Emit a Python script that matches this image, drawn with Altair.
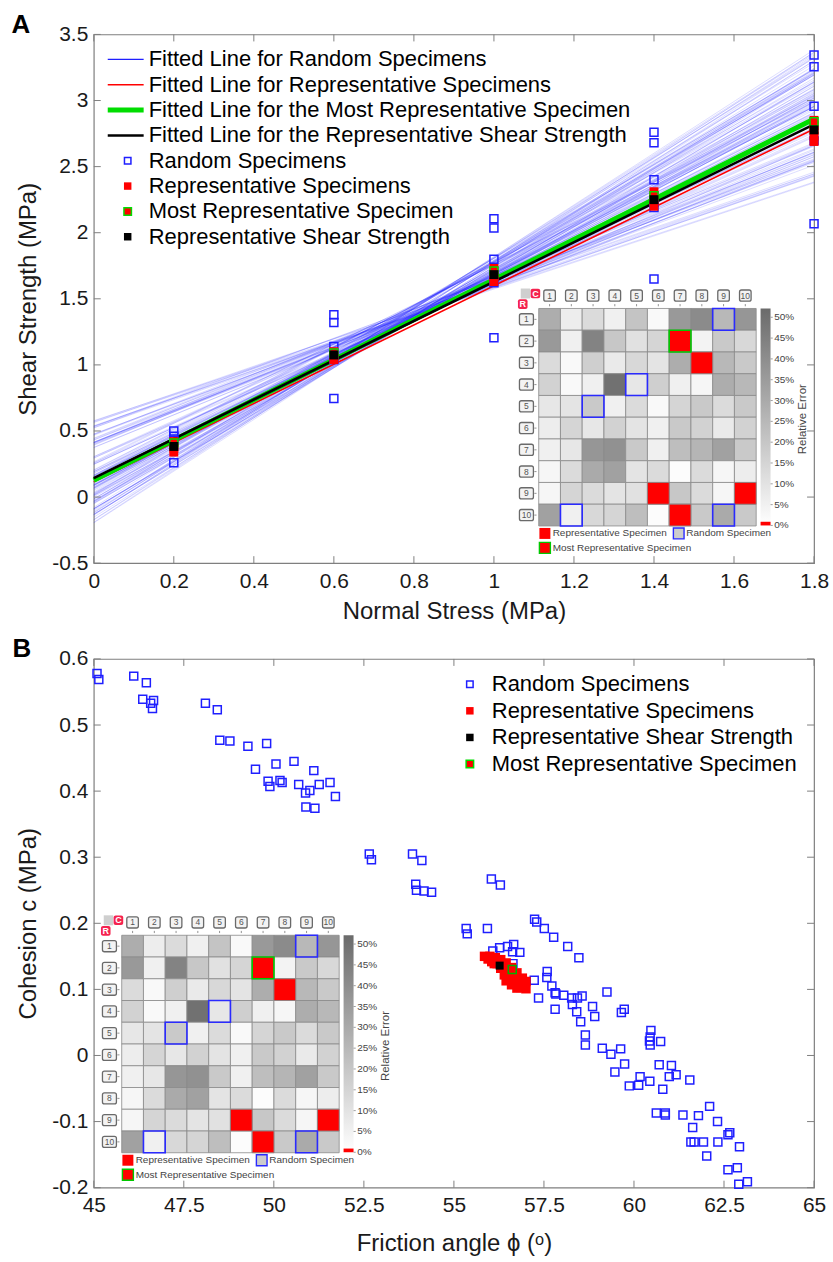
import altair as alt
import pandas as pd

FONT = "Liberation Sans"
INK = "#1a1a1a"
FRAME = "#7f7f7f"
BLUE = "#1f1fff"
RED = "#ff0000"
GREEN = "#00dd00"
W, H = 722, 530

# ---------------- Panel B data (friction angle, cohesion) ----------------
B_xticks = [45, 47.5, 50, 52.5, 55, 57.5, 60, 62.5, 65]
B_yticks = [-0.2, -0.1, 0, 0.1, 0.2, 0.3, 0.4, 0.5, 0.6]

B_rand_phi = [45.09, 45.14, 46.11, 46.46, 46.36, 46.58, 46.66, 46.63, 48.10, 48.43,
              48.50, 48.78, 49.28, 49.80, 49.49, 49.84, 49.89, 50.06, 50.17, 50.23,
              50.56, 50.69, 50.88, 51.00, 51.11, 50.89, 51.14, 51.26, 51.56, 51.71,
              52.65, 52.71, 53.85, 54.11, 53.94, 53.96, 54.17, 54.38,
              56.04, 56.29, 55.34, 55.37, 55.93, 56.08, 56.27, 56.49, 56.66, 56.63,
              56.83, 56.64, 57.24, 57.30, 57.51, 57.77, 58.16, 58.47,
              57.23, 57.59, 57.58, 57.72, 57.81, 57.83, 58.05, 58.27, 58.43, 58.56,
              58.29, 57.35, 57.81, 58.41, 58.52, 58.85, 58.91, 59.25,
              58.65, 58.65, 59.12, 59.36, 59.63, 59.65, 59.73, 59.47, 59.74, 59.87,
              60.13, 60.17, 60.44, 60.47, 60.43, 60.45, 60.45, 60.74, 60.70, 61.04,
              60.98, 61.17, 60.80, 61.55,
              60.62, 60.87, 60.87, 61.36, 61.79, 62.10, 62.32, 61.63, 61.58, 61.67,
              61.93, 62.33, 62.02, 62.61, 62.66, 62.93, 62.61, 62.87, 62.91, 63.15]
B_rand_c = [0.578, 0.569, 0.574, 0.564, 0.539, 0.533, 0.537, 0.525, 0.533, 0.523,
            0.477, 0.476, 0.468, 0.472, 0.433, 0.415, 0.407, 0.441, 0.416, 0.413,
            0.445, 0.410, 0.397, 0.401, 0.431, 0.376, 0.374, 0.410, 0.413, 0.392,
            0.305, 0.296, 0.305, 0.295, 0.259, 0.250, 0.249, 0.247,
            0.267, 0.258, 0.192, 0.184, 0.192, 0.158, 0.163, 0.165, 0.168, 0.157,
            0.156, 0.139, 0.206, 0.202, 0.192, 0.179, 0.165, 0.148,
            0.114, 0.127, 0.118, 0.105, 0.095, 0.093, 0.091, 0.087, 0.087, 0.090,
            0.077, 0.087, 0.070, 0.066, 0.051, 0.074, 0.059, 0.096,
            0.031, 0.016, 0.011, 0.002, 0.010, 0.065, 0.070, -0.025, -0.013, -0.046,
            -0.045, -0.032, -0.039, 0.038, 0.022, 0.016, 0.028, 0.021, -0.014, -0.015,
            -0.032, -0.029, -0.051, -0.037,
            -0.087, -0.087, -0.090, -0.090, -0.091, -0.077, -0.100, -0.109, -0.131, -0.131,
            -0.131, -0.131, -0.152, -0.120, -0.117, -0.138, -0.173, -0.170, -0.195, -0.191]

B_rep_phi = [55.85, 56.00, 56.15, 56.30, 56.45, 56.60, 56.75, 56.90, 57.00,
             55.95, 56.05, 56.20, 56.35, 56.50, 56.65, 56.80, 56.95,
             56.12, 56.30, 56.40, 56.55, 56.70, 56.85, 57.00,
             56.45, 56.60, 56.75]
B_rep_c = [0.150, 0.150, 0.148, 0.145, 0.140, 0.133, 0.125, 0.117, 0.112,
           0.146, 0.142, 0.139, 0.134, 0.127, 0.119, 0.112, 0.106,
           0.139, 0.132, 0.122, 0.115, 0.108, 0.103, 0.101,
           0.113, 0.107, 0.102]
B_most_phi, B_most_c = [56.62], [0.130]
B_shear_phi, B_shear_c = [56.27], [0.136]

B_legend_labels = ["Random Specimens", "Representative Specimens",
                   "Representative Shear Strength", "Most Representative Specimen"]

# ---------------- Panel A data (normal stress, shear strength) ----------------
A_xticks = [0, 0.2, 0.4, 0.6, 0.8, 1, 1.2, 1.4, 1.6, 1.8]
A_yticks = [-0.5, 0, 0.5, 1, 1.5, 2, 2.5, 3, 3.5]

A_rand_sigma = [0.2, 0.2, 0.2, 0.2, 0.6, 0.6, 0.6, 0.6, 0.6, 1.0, 1.0, 1.0, 1.0, 1.0,
                1.4, 1.4, 1.4, 1.4, 1.4, 1.4, 1.8, 1.8, 1.8, 1.8, 1.8]
A_rand_tau = [0.50, 0.46, 0.43, 0.26, 1.38, 1.32, 1.14, 1.04, 0.745, 2.106, 2.036, 1.80, 1.621, 1.206,
              2.76, 2.68, 2.40, 2.23, 2.19, 1.65, 3.344, 3.256, 2.957, 2.698, 2.068]
A_rep_sigma = [0.2, 0.2, 0.2, 0.2, 0.6, 0.6, 0.6, 1.0, 1.0, 1.0, 1.0,
               1.4, 1.4, 1.4, 1.4, 1.8, 1.8, 1.8, 1.8, 1.8]
A_rep_tau = [0.34, 0.37, 0.40, 0.42, 1.04, 1.07, 1.10, 1.63, 1.67, 1.71, 1.73,
             2.20, 2.24, 2.28, 2.31, 2.69, 2.73, 2.77, 2.81, 2.85]
A_most_sigma = [0.2, 0.6, 1.0, 1.4, 1.8]
A_most_tau = [0.41, 1.09, 1.71, 2.28, 2.84]
A_shear_sigma = [0.2, 0.6, 1.0, 1.4, 1.8]
A_shear_tau = [0.383, 1.075, 1.683, 2.25, 2.778]

# fitted lines: value at sigma = 0 and at sigma = 1.8  (rep, most rep, shear strength)
A_fit_start = [0.115, 0.128, 0.143]
A_fit_end = [2.785, 2.86, 2.82]

A_legend_labels = ["Fitted Line for Random Specimens",
                   "Fitted Line for Representative Specimens",
                   "Fitted Line for the Most Representative Specimen",
                   "Fitted Line for the Representative Shear Strength",
                   "Random Specimens", "Representative Specimens",
                   "Most Representative Specimen", "Representative Shear Strength"]

# ---------------- Inset heat map (relative error, %) ----------------
ERR = [
    [28, 6, 12, 5, 20, 2, 35, 40, 24, 36],
    [35, 5, 43, 19, 10, 14, 0, 4, 18, 13],
    [12, 2, 16, 7, 13, 9, 28, 0, 24, 18],
    [15, 2, 5, 50, 8, 16, 5, 3, 28, 24],
    [8, 9, 18, 5, 12, 2, 14, 18, 12, 18],
    [6, 14, 8, 15, 9, 5, 18, 15, 7, 15],
    [5, 8, 36, 38, 18, 5, 22, 25, 32, 18],
    [3, 12, 29, 32, 9, 12, 1, 12, 3, 6],
    [3, 14, 12, 9, 10, 0, 19, 12, 3, 0],
    [32, 5, 13, 14, 22, 1, 0, 18, 29, 18],
]
REP_CELLS = [(2, 7), (3, 8), (9, 6), (9, 10), (10, 7)]
MOST_CELLS = [(2, 7)]
RANDOM_CELLS = [(1, 9), (4, 5), (5, 3), (10, 2), (10, 9)]
HEADERS = [str(i) for i in range(1, 11)]
CB_TICKS = [0, 5, 10, 15, 20, 25, 30, 35, 40, 45, 50]
CB_MAX = 52.2
INSET_LEGEND = ["Representative Specimen", "Random Specimen", "Most Representative Specimen"]


def one():
    return pd.DataFrame({"k": [0]})


def ptxt(df, size, color="#333333", align="center", weight="normal", angle=None, font=FONT):
    kw = dict(align=align, baseline="middle", font=font, fontSize=size, color=color, fontWeight=weight)
    if angle is not None:
        kw["angle"] = angle
    return alt.Chart(df).mark_text(**kw).encode(
        x=alt.X("px:Q", scale=None), y=alt.Y("py:Q", scale=None), text="t:N")


def prect(df, **kw):
    return alt.Chart(df).mark_rect(**kw).encode(
        x=alt.X("px1:Q", scale=None), x2="px2:Q", y=alt.Y("py1:Q", scale=None), y2="py2:Q")


def inset(ox, oy):
    s = 21.8
    L = []

    def cells_df(pairs, with_err=False):
        rows = []
        for (r, c) in pairs:
            d = {"px1": ox + (c - 1) * s, "px2": ox + c * s, "py1": oy + (r - 1) * s, "py2": oy + r * s}
            if with_err:
                d["err"] = ERR[r - 1][c - 1]
            rows.append(d)
        return pd.DataFrame(rows)

    allcells = cells_df([(r, c) for r in range(1, 11) for c in range(1, 11)], True)
    L.append(alt.Chart(allcells).mark_rect(stroke="#8a8a8a", strokeWidth=0.8).encode(
        x=alt.X("px1:Q", scale=None), x2="px2:Q", y=alt.Y("py1:Q", scale=None), y2="py2:Q",
        fill=alt.Fill("err:Q", scale=alt.Scale(domain=[0, CB_MAX], range=["#ffffff", "#6b6b6b"]), legend=None)))
    L.append(prect(cells_df(REP_CELLS), fill=RED, stroke="#8a8a8a", strokeWidth=0.8))
    L.append(prect(cells_df(RANDOM_CELLS), fillOpacity=0, stroke="#2a2aff", strokeWidth=1.6))
    L.append(prect(cells_df(MOST_CELLS), fillOpacity=0, stroke="#00c800", strokeWidth=1.6))

    # column and row headers
    ch = pd.DataFrame({"t": HEADERS, "i": range(1, 11)})
    ch["px"] = ox + (ch["i"] - 0.5) * s
    ch["py"] = oy - 12.9
    ch["px1"], ch["px2"] = ch["px"] - 5.8, ch["px"] + 5.8
    ch["py1"], ch["py2"] = ch["py"] - 5.6, ch["py"] + 5.6
    L.append(prect(ch, cornerRadius=2, fill="#f3f3f3", stroke="#6a6a6a", strokeWidth=1.3))
    L.append(ptxt(ch, 8.5, "#555555"))
    rh = pd.DataFrame({"t": HEADERS, "i": range(1, 11)})
    rh["px"] = ox - 12.3
    rh["py"] = oy + (rh["i"] - 0.5) * s
    rh["px1"], rh["px2"] = rh["px"] - 7, rh["px"] + 7
    rh["py1"], rh["py2"] = rh["py"] - 5.6, rh["py"] + 5.6
    L.append(prect(rh, cornerRadius=2, fill="#f3f3f3", stroke="#6a6a6a", strokeWidth=1.3))
    L.append(ptxt(rh, 8.5, "#555555"))
    # tiny ticks
    ct = ch.assign(py1=oy - 4.4, py2=oy - 2.2)
    L.append(alt.Chart(ct).mark_rule(color="#777777", strokeWidth=0.8).encode(
        x=alt.X("px:Q", scale=None), y=alt.Y("py1:Q", scale=None), y2="py2:Q"))
    rt = rh.assign(px1=ox - 4.4, px2=ox - 2.2)
    L.append(alt.Chart(rt).mark_rule(color="#777777", strokeWidth=0.8).encode(
        y=alt.Y("py:Q", scale=None), x=alt.X("px1:Q", scale=None), x2="px2:Q"))

    # corner C / R tags
    g = pd.DataFrame({"px1": [ox - 18], "px2": [ox - 8.5], "py1": [oy - 20], "py2": [oy - 10]})
    L.append(prect(g, fill="#cfcfcf"))
    tags = pd.DataFrame({"t": ["C", "R"], "px": [ox - 3.3, ox - 16], "py": [oy - 15, oy - 4.4]})
    tags["px1"], tags["px2"] = tags["px"] - 4.8, tags["px"] + 4.8
    tags["py1"], tags["py2"] = tags["py"] - 4.8, tags["py"] + 4.8
    L.append(prect(tags, cornerRadius=2, fill="#f5234f"))
    L.append(ptxt(tags, 9, "white", weight="bold"))

    # colour bar
    cb = pd.DataFrame({"px1": [ox + 222.4], "px2": [ox + 232.4], "py1": [oy], "py2": [oy + 217.5]})
    grad = alt.LinearGradient(gradient="linear",
                              stops=[alt.GradientStop(color="#6b6b6b", offset=0),
                                     alt.GradientStop(color="#ffffff", offset=1)],
                              x1=0, x2=0, y1=0, y2=1)
    L.append(prect(cb, fill=grad))
    cbr = pd.DataFrame({"px1": [ox + 222.4], "px2": [ox + 232.4], "py1": [oy + 213.8], "py2": [oy + 217.5]})
    L.append(prect(cbr, fill=RED))
    cl = pd.DataFrame({"p": CB_TICKS})
    cl["t"] = cl["p"].astype(str) + "%"
    cl["py"] = oy + 217.5 - cl["p"] * (217.5 - 8.8) / 50
    cl["px"] = ox + 236
    cl["px1"], cl["px2"] = ox + 232.4, ox + 234.6
    L.append(alt.Chart(cl).mark_rule(color="#888888", strokeWidth=0.8).encode(
        y=alt.Y("py:Q", scale=None), x=alt.X("px1:Q", scale=None), x2="px2:Q"))
    L.append(ptxt(cl, 10, "#444444", align="left"))
    L.append(ptxt(pd.DataFrame({"t": ["Relative Error"], "px": [ox + 265], "py": [oy + 111]}),
                  11.5, "#444444", angle=270))

    # inset legend
    lg = pd.DataFrame({"px1": [ox + 0.7, ox + 135, ox + 0.7], "px2": [ox + 11.7, ox + 145.7, ox + 11.7],
                       "py1": [oy + 220, oy + 220, oy + 234.5], "py2": [oy + 231, oy + 231, oy + 245.5]})
    L.append(prect(lg.iloc[[0]], fill=RED))
    L.append(prect(lg.iloc[[1]], fill="#cccccc", stroke="#2a2aff", strokeWidth=1.4))
    L.append(prect(lg.iloc[[2]], fill=RED, stroke="#00c800", strokeWidth=1.4))
    lt = pd.DataFrame({"t": INSET_LEGEND, "px": [ox + 14, ox + 148, ox + 14],
                       "py": [oy + 225.5, oy + 225.5, oy + 240]})
    L.append(ptxt(lt, 10, "#444444", align="left"))
    return L


def axis(title, values, orient, title_pad):
    common = dict(values=values, labelExpr="'' + datum.value", ticks=False, domain=False, grid=False,
                  labelFont=FONT, labelFontSize=21, labelColor=INK, labelOverlap=False,
                  title=title, titleFont=FONT, titleFontSize=24, titleFontWeight="normal",
                  titleColor=INK, titlePadding=title_pad)
    if orient == "x":
        return alt.Axis(labelPadding=7, labelFlush=False, **common)
    return alt.Axis(labelPadding=6, **common)


def make_panel(xs, ys, ax, ay):
    """Helpers bound to one panel's scales and axes (same axis in every layer)."""
    def X(f):
        return alt.X(f, scale=xs, axis=ax)

    def Y(f):
        return alt.Y(f, scale=ys, axis=ay)
    return X, Y


def inner_ticks(xticks, yticks, X, Y):
    L = []
    dx = pd.DataFrame({"v": xticks})
    dy = pd.DataFrame({"v": yticks})
    for a, b in [(H, H - 7), (0, 7)]:
        L.append(alt.Chart(dx).mark_rule(color=FRAME, strokeWidth=1).encode(
            x=X("v:Q"), y=alt.value(a), y2=alt.value(b)))
    for a, b in [(0, 7), (W, W - 7)]:
        L.append(alt.Chart(dy).mark_rule(color=FRAME, strokeWidth=1).encode(
            y=Y("v:Q"), x=alt.value(a), x2=alt.value(b)))
    return L


def squares(df, xf, yf, X, Y, size, **kw):
    return alt.Chart(df).mark_point(shape="square", size=size, opacity=1, **kw).encode(
        x=X(xf), y=Y(yf))


def legend_text(labels, x0, y0, dy, size):
    d = pd.DataFrame({"t": labels, "i": range(len(labels))})
    d["px"] = x0
    d["py"] = y0 + d["i"] * dy
    return ptxt(d, size, "black", align="left")


def vsym(x, y, size, **kw):
    return alt.Chart(one()).mark_point(shape="square", size=size, opacity=1, **kw).encode(
        x=alt.value(x), y=alt.value(y))


# ====================== Panel A ======================
xsA = alt.Scale(domain=[0, 1.8], nice=False, zero=False)
ysA = alt.Scale(domain=[-0.5, 3.5], nice=False, zero=False)
XA, YA = make_panel(xsA, ysA, axis("Normal Stress (MPa)", A_xticks, "x", 8),
                    axis("Shear Strength (MPa)", A_yticks, "y", 11))

A = []
rl = pd.DataFrame({"phi": B_rand_phi, "c": B_rand_c})
A.append(alt.Chart(rl).transform_calculate(
    s0="0", s1="1.8", t0="datum.c", t1="datum.c + tan(datum.phi * PI / 180) * 1.8"
).mark_rule(color=BLUE, opacity=0.15, strokeWidth=1).encode(
    x=XA("s0:Q"), x2="s1:Q", y=YA("t0:Q"), y2="t1:Q"))
for i, (col, w) in enumerate([(RED, 1.6), (GREEN, 5), ("black", 2.6)]):
    fl = pd.DataFrame({"s0": [0], "s1": [1.8], "t0": [A_fit_start[i]], "t1": [A_fit_end[i]]})
    A.append(alt.Chart(fl).mark_rule(color=col, strokeWidth=w).encode(
        x=XA("s0:Q"), x2="s1:Q", y=YA("t0:Q"), y2="t1:Q"))

A.append(squares(pd.DataFrame({"sigma": A_rand_sigma, "tau": A_rand_tau}), "sigma:Q", "tau:Q",
                 XA, YA, 64, filled=False, color=BLUE, strokeWidth=1.5))
A.append(squares(pd.DataFrame({"sigma": A_rep_sigma, "tau": A_rep_tau}), "sigma:Q", "tau:Q",
                 XA, YA, 80, filled=True, color=RED))
A.append(squares(pd.DataFrame({"sigma": A_most_sigma, "tau": A_most_tau}), "sigma:Q", "tau:Q",
                 XA, YA, 64, filled=True, fill=RED, stroke=GREEN, strokeWidth=1.5))
A.append(squares(pd.DataFrame({"sigma": A_shear_sigma, "tau": A_shear_tau}), "sigma:Q", "tau:Q",
                 XA, YA, 80, filled=True, color="black"))
A += inner_ticks(A_xticks, A_yticks, XA, YA)

# legend A
LA_y0, LA_dy = 25, 25.4
for i, (col, w) in enumerate([(BLUE, 1.5), (RED, 1.5), (GREEN, 5), ("black", 2.5)]):
    A.append(alt.Chart(one()).mark_rule(color=col, strokeWidth=w).encode(
        x=alt.value(14), x2=alt.value(50), y=alt.value(LA_y0 + i * LA_dy)))
A.append(vsym(34, LA_y0 + 4 * LA_dy, 42, filled=False, color=BLUE, strokeWidth=1.5))
A.append(vsym(34, LA_y0 + 5 * LA_dy, 56, filled=True, color=RED))
A.append(vsym(34, LA_y0 + 6 * LA_dy, 56, filled=True, fill=RED, stroke=GREEN, strokeWidth=1.5))
A.append(vsym(34, LA_y0 + 7 * LA_dy, 56, filled=True, color="black"))
A.append(legend_text(A_legend_labels, 55, LA_y0, LA_dy, 22))

A += inset(446, 274.7)
A.append(ptxt(pd.DataFrame({"t": ["A"], "px": [-73], "py": [-9]}), 26, "black", weight="bold"))
A.append(alt.Chart(one()).mark_rule(color="white", strokeWidth=1).encode(
    x=alt.value(-92.8), x2=alt.value(-92.3), y=alt.value(-31.5)))

panelA = alt.layer(*A).properties(width=W, height=H)

# ====================== Panel B ======================
xsB = alt.Scale(domain=[45, 65], nice=False, zero=False)
ysB = alt.Scale(domain=[-0.2, 0.6], nice=False, zero=False)
XB, YB = make_panel(xsB, ysB, axis("Friction angle ϕ (ᵒ)", B_xticks, "x", 16),
                    axis("Cohesion c (MPa)", B_yticks, "y", 11))

B = []
B.append(squares(pd.DataFrame({"phi": B_rand_phi, "c": B_rand_c}), "phi:Q", "c:Q",
                 XB, YB, 64, filled=False, color=BLUE, strokeWidth=1.5))
B.append(squares(pd.DataFrame({"phi": B_rep_phi, "c": B_rep_c}), "phi:Q", "c:Q",
                 XB, YB, 90, filled=True, color=RED))
B.append(squares(pd.DataFrame({"phi": B_shear_phi, "c": B_shear_c}), "phi:Q", "c:Q",
                 XB, YB, 64, filled=True, color="black"))
B.append(squares(pd.DataFrame({"phi": B_most_phi, "c": B_most_c}), "phi:Q", "c:Q",
                 XB, YB, 64, filled=True, fill=RED, stroke="#00b000", strokeWidth=1.5))
B += inner_ticks(B_xticks, B_yticks, XB, YB)

LB_x, LB_y0, LB_dy = 377, 25.3, 26.7
B.append(vsym(LB_x, LB_y0, 42, filled=False, color=BLUE, strokeWidth=1.5))
B.append(vsym(LB_x, LB_y0 + LB_dy, 56, filled=True, color=RED))
B.append(vsym(LB_x, LB_y0 + 2 * LB_dy, 56, filled=True, color="black"))
B.append(vsym(LB_x, LB_y0 + 3 * LB_dy, 56, filled=True, fill=RED, stroke=GREEN, strokeWidth=1.5))
B.append(legend_text(B_legend_labels, 399, LB_y0, LB_dy, 22))

B += inset(28, 277)
B.append(ptxt(pd.DataFrame({"t": ["B"], "px": [-72], "py": [-10]}), 26, "black", weight="bold"))
B.append(alt.Chart(one()).mark_rule(color="white", strokeWidth=1).encode(
    x=alt.value(738.7), x2=alt.value(739.2), y=alt.value(603.5)))

panelB = alt.layer(*B).properties(width=W, height=H)

chart = alt.vconcat(panelA, panelB, spacing=96, bounds="flush").properties(
    padding=0
).configure_view(stroke=FRAME, strokeWidth=1.2)

chart.save("out.html", embed_options={"renderer": "svg", "actions": False})
